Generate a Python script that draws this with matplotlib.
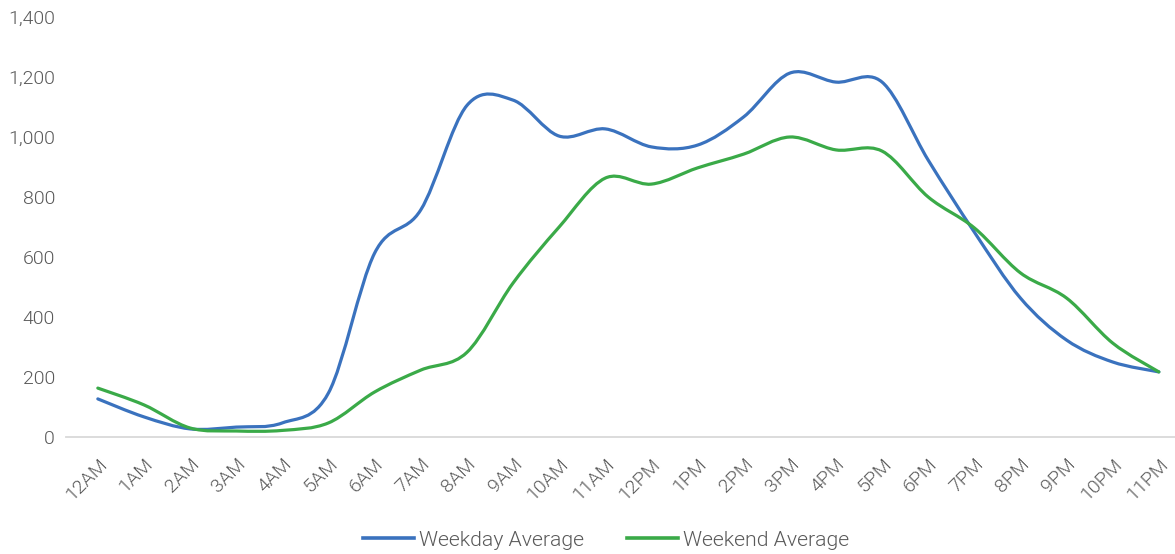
import numpy as np
import matplotlib

matplotlib.use("Agg")
import matplotlib.pyplot as plt
from matplotlib.path import Path
from matplotlib.patches import PathPatch
from matplotlib.lines import Line2D

HOURS = ["12AM", "1AM", "2AM", "3AM", "4AM", "5AM", "6AM", "7AM", "8AM", "9AM", "10AM", "11AM",
         "12PM", "1PM", "2PM", "3PM", "4PM", "5PM", "6PM", "7PM", "8PM", "9PM", "10PM", "11PM"]
WEEKDAY = [127, 67, 27, 33, 47, 147, 613, 757, 1105, 1123, 1003, 1027,
           967, 973, 1067, 1213, 1183, 1183, 923, 683, 463, 323, 250, 217]
WEEKEND = [163, 107, 30, 20, 22, 47, 150, 223, 282, 513, 700, 863,
           843, 897, 943, 1000, 957, 953, 800, 697, 547, 463, 313, 217]
YTICKS = [0, 200, 400, 600, 800, 1000, 1200, 1400]

BLUE = "#3A72BE"
GREEN = "#3AAA48"
GREY = "#595959"
FONT = ["Roboto", "DejaVu Sans"]


def smooth_path(x, y, t=1 / 6):
    # Excel-style smoothed line: cubic beziers through every point
    x, y = np.asarray(x, float), np.asarray(y, float)
    verts = [(x[0], y[0])]
    codes = [Path.MOVETO]
    n = len(x)
    for i in range(n - 1):
        x0, y0 = (x[i - 1], y[i - 1]) if i > 0 else (x[i], y[i])
        x3, y3 = (x[i + 2], y[i + 2]) if i + 2 < n else (x[i + 1], y[i + 1])
        c1 = (x[i] + (x[i + 1] - x0) * t, y[i] + (y[i + 1] - y0) * t)
        c2 = (x[i + 1] - (x3 - x[i]) * t, y[i + 1] - (y3 - y[i]) * t)
        verts += [c1, c2, (x[i + 1], y[i + 1])]
        codes += [Path.CURVE4] * 3
    return Path(verts, codes)


fig = plt.figure(figsize=(11.75, 5.54), dpi=100)
ax = fig.add_axes([66 / 1175, 1 - 437 / 554, 1 - 66 / 1175, (437 - 17) / 554])

xs = np.arange(len(HOURS))
for vals, col in [(WEEKDAY, BLUE), (WEEKEND, GREEN)]:
    ax.add_patch(PathPatch(smooth_path(xs, vals), facecolor="none", edgecolor=col,
                           lw=2.3, capstyle="round", joinstyle="round", clip_on=False))

ax.set_xlim(-0.69, 23.35)
ax.set_ylim(0, 1400)
ax.set_yticks(YTICKS)
ax.set_yticklabels([f"{v:,}" for v in YTICKS], fontsize=14, color=GREY,
                   family=FONT, fontweight=300)
ax.set_xticks(xs)
ax.set_xticklabels(HOURS, rotation=45, ha="right", va="top", rotation_mode="anchor",
                   fontsize=14, color=GREY, family=FONT, fontweight=300)
ax.tick_params(length=0, pad=8)
ax.tick_params(axis="x", pad=13)
for s in ["top", "right", "left"]:
    ax.spines[s].set_visible(False)
ax.spines["bottom"].set_color("#D9D9D9")
ax.spines["bottom"].set_linewidth(1.3)

handles = [Line2D([], [], color=BLUE, lw=2.6), Line2D([], [], color=GREEN, lw=2.6)]
leg = fig.legend(handles, ["Weekday Average", "Weekend Average"], loc="center",
                 bbox_to_anchor=(606 / 1175, 1 - 540 / 554), ncol=2, frameon=False,
                 prop={"family": FONT, "size": 15.3, "weight": 300},
                 handlelength=2.4, handletextpad=0.25, columnspacing=2.0)
for txt in leg.get_texts():
    txt.set_color(GREY)

fig.savefig("out.png", dpi=100)
